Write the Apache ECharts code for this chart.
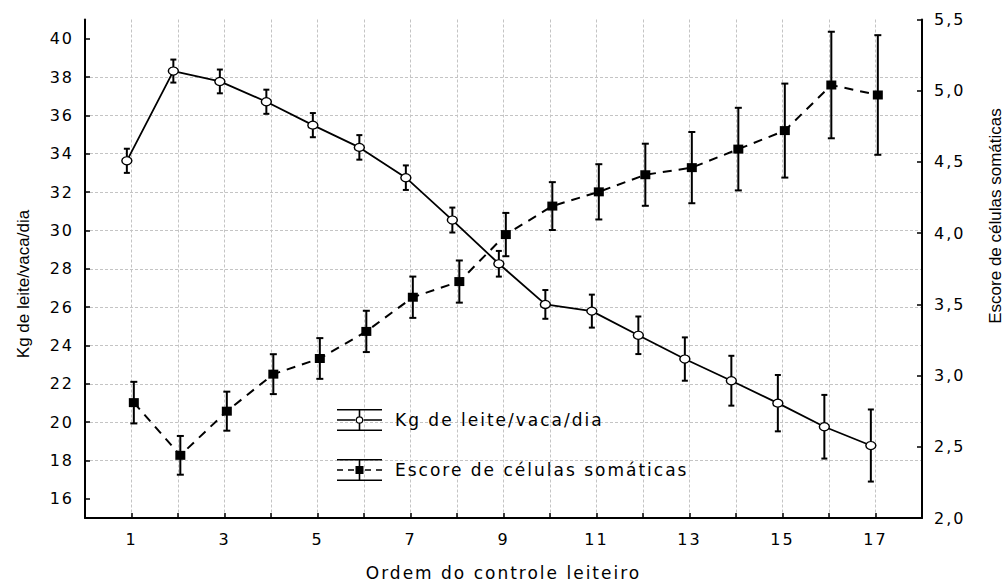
<!DOCTYPE html>
<html>
<head>
<meta charset="utf-8">
<script src="https://cdn.jsdelivr.net/npm/echarts@6/dist/echarts.min.js"></script>
<style>
  html, body { margin: 0; padding: 0; background: #fff; }
  #chart { width: 1008px; height: 586px; }
  /* texto horizontal mais largo, como no original */
  #chart text:not([transform*="matrix"]) { letter-spacing: 2px; }
</style>
</head>
<body>
<div id="chart"></div>
<script>
var ordem = [1, 2, 3, 4, 5, 6, 7, 8, 9, 10, 11, 12, 13, 14, 15, 16, 17];
var leite = [33.63, 38.31, 37.77, 36.71, 35.49, 34.33, 32.75, 30.54, 28.26, 26.14, 25.79, 24.53, 23.29, 22.16, 20.99, 19.76, 18.78];
var leiteErro = [0.63, 0.60, 0.62, 0.63, 0.63, 0.64, 0.64, 0.65, 0.67, 0.75, 0.86, 0.98, 1.13, 1.30, 1.47, 1.66, 1.88];
var escore = [2.81, 2.44, 2.75, 3.01, 3.12, 3.31, 3.55, 3.66, 3.99, 4.19, 4.29, 4.41, 4.46, 4.59, 4.72, 5.04, 4.97];
var escoreErro = [0.146, 0.136, 0.137, 0.140, 0.143, 0.145, 0.145, 0.148, 0.152, 0.168, 0.194, 0.218, 0.250, 0.290, 0.330, 0.374, 0.420];
var leiteTicks = [16, 18, 20, 22, 24, 26, 28, 30, 32, 34, 36, 38, 40];

var nomeLeite = 'Kg de leite/vaca/dia';
var nomeEscore = 'Escore de células somáticas';

// deslocamento horizontal das duas séries (como no Statistica)
var desvLeite = -0.1, desvEscore = 0.05;

var fonteH = '"DejaVu Sans", sans-serif';
var fonteV = '"Liberation Sans", Arial, sans-serif';

var myChart = echarts.init(document.getElementById('chart'), null, { renderer: 'svg' });

function barras(capW) {
    return function (params, api) {
        var x = api.value(0);
        var top = api.coord([x, api.value(2)]);
        var bot = api.coord([x, api.value(1)]);
        var st = { stroke: '#000', lineWidth: 2 };
        return {
            type: 'group',
            children: [
                { type: 'line', shape: { x1: top[0], y1: top[1], x2: bot[0], y2: bot[1] }, style: st },
                { type: 'line', shape: { x1: top[0] - capW, y1: top[1], x2: top[0] + capW, y2: top[1] }, style: st },
                { type: 'line', shape: { x1: bot[0] - capW, y1: bot[1], x2: bot[0] + capW, y2: bot[1] }, style: st }
            ]
        };
    };
}

var iconeLeite = 'path://M0 0H45V1.6H0Z M0 20.4H45V22H0Z M0 10.2H18.4V11.8H0Z M26.6 10.2H45V11.8H26.6Z ' +
    'M21.7 0H23.3V7.4H21.7Z M21.7 14.6H23.3V22H21.7Z ' +
    'M18.7 11A3.8 3.8 0 1 1 26.3 11A3.8 3.8 0 1 1 18.7 11Z M19.9 11A2.6 2.6 0 1 0 25.1 11A2.6 2.6 0 1 0 19.9 11Z';
var iconeEscore = 'path://M0 0H45V1.6H0Z M0 20.4H45V22H0Z M21.7 0H23.3V22H21.7Z M18.5 7H26.5V15H18.5Z ' +
    'M0 10.2H6V11.8H0Z M11 10.2H17V11.8H11Z M28 10.2H34V11.8H28Z M39 10.2H45V11.8H39Z';

var option = {
    animation: false,
    backgroundColor: '#fff',
    grid: { left: 85, right: 86, top: 19.5, bottom: 60, containLabel: false },
    legend: {
        orient: 'vertical',
        left: 337,
        top: 409,
        padding: 0,
        itemWidth: 45,
        itemHeight: 22,
        itemGap: 28,
        selectedMode: false,
        itemStyle: { color: '#000', borderWidth: 0 },
        textStyle: { color: '#000', fontSize: 17, fontFamily: fonteH, padding: [0, 0, 0, 8] },
        data: [
            { name: nomeLeite, icon: iconeLeite, itemStyle: { color: '#000', borderWidth: 0 } },
            { name: nomeEscore, icon: iconeEscore, itemStyle: { color: '#000', borderWidth: 0 } }
        ]
    },
    xAxis: {
        type: 'value',
        min: 0,
        max: 18,
        interval: 1,
        name: 'Ordem do controle leiteiro',
        nameLocation: 'middle',
        nameGap: 46,
        nameTextStyle: { color: '#000', fontSize: 17, fontFamily: fonteH },
        axisLine: { show: true, onZero: false, lineStyle: { color: '#000', width: 2 } },
        axisTick: { show: true, inside: true, length: 5, lineStyle: { color: '#000', width: 1.5 } },
        axisLabel: {
            color: '#000', fontSize: 16, fontFamily: fonteH, margin: 13,
            formatter: function (v) { return v % 2 === 1 ? String(v) : ''; }
        },
        splitLine: { show: true, showMinLine: false, showMaxLine: false, lineStyle: { color: '#c4c4c4', width: 1, type: [3, 2] } }
    },
    yAxis: [
        {
            type: 'value',
            min: 15,
            max: 41,
            splitNumber: 13,
            position: 'left',
            axisLine: { show: true, onZero: false, lineStyle: { color: '#000', width: 2 } },
            axisTick: { show: true, inside: true, length: 5, customValues: leiteTicks, lineStyle: { color: '#000', width: 1.5 } },
            axisLabel: { color: '#000', fontSize: 16, fontFamily: fonteH, margin: 11, customValues: leiteTicks },
            splitLine: { show: true, showMinLine: false, showMaxLine: false, lineStyle: { color: '#c4c4c4', width: 1, type: [3, 2] } }
        },
        {
            type: 'value',
            min: 2,
            max: 5.5,
            interval: 0.5,
            position: 'right',
            axisLine: { show: true, onZero: false, lineStyle: { color: '#000', width: 2 } },
            axisTick: { show: true, inside: true, length: 5, lineStyle: { color: '#000', width: 1.5 } },
            axisLabel: {
                color: '#000', fontSize: 16, fontFamily: fonteH, margin: 12,
                formatter: function (v) { return v.toFixed(1).replace('.', ','); }
            },
            splitLine: { show: false }
        }
    ],
    graphic: [
        {
            type: 'text', x: 23, y: 284, rotation: Math.PI / 2,
            style: { text: nomeLeite, font: '17px ' + fonteV, fill: '#000', align: 'center', verticalAlign: 'middle' }
        },
        {
            type: 'text', x: 995, y: 216, rotation: Math.PI / 2,
            style: { text: nomeEscore, font: '17px ' + fonteV, fill: '#000', align: 'center', verticalAlign: 'middle' }
        }
    ],
    series: [
        {
            name: 'erroLeite',
            type: 'custom',
            xAxisIndex: 0,
            yAxisIndex: 0,
            z: 2,
            renderItem: barras(3),
            data: ordem.map(function (o, i) { return [o + desvLeite, leite[i] - leiteErro[i], leite[i] + leiteErro[i]]; })
        },
        {
            name: 'erroEscore',
            type: 'custom',
            xAxisIndex: 0,
            yAxisIndex: 1,
            z: 2,
            renderItem: barras(3.5),
            data: ordem.map(function (o, i) { return [o + desvEscore, escore[i] - escoreErro[i], escore[i] + escoreErro[i]]; })
        },
        {
            name: nomeLeite,
            type: 'line',
            yAxisIndex: 0,
            z: 4,
            symbol: 'circle',
            symbolSize: [10, 8],
            itemStyle: { color: '#fff', borderColor: '#000', borderWidth: 1.3 },
            lineStyle: { color: '#000', width: 1.8, type: 'solid' },
            data: ordem.map(function (o, i) { return [o + desvLeite, leite[i]]; })
        },
        {
            name: nomeEscore,
            type: 'line',
            yAxisIndex: 1,
            z: 4,
            symbol: 'rect',
            symbolSize: [10, 9],
            itemStyle: { color: '#000', borderWidth: 0 },
            lineStyle: { color: '#000', width: 2, type: [9, 7] },
            data: ordem.map(function (o, i) { return [o + desvEscore, escore[i]]; })
        }
    ]
};
myChart.setOption(option);
</script>
</body>
</html>
